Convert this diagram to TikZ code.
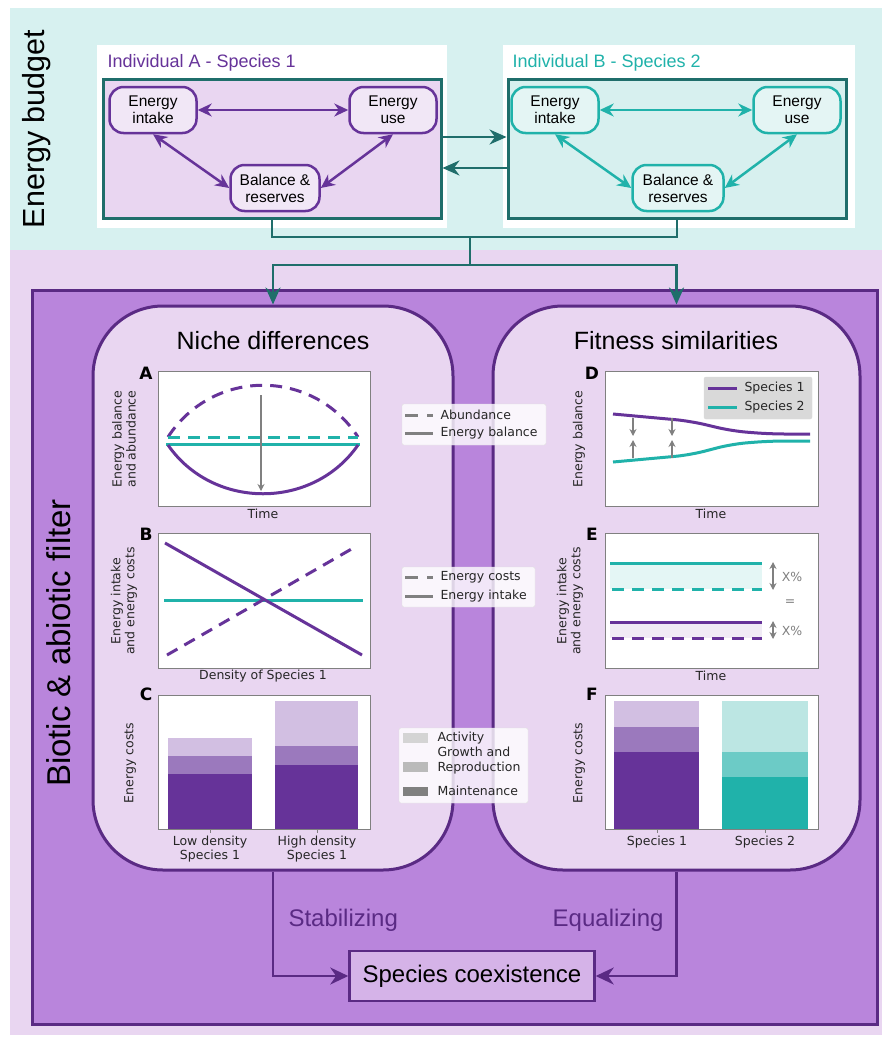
\documentclass[tikz,border=0pt]{standalone}
\usepackage{fontspec}
\setmainfont{DejaVu Sans}
\newfontfamily\arial{Liberation Sans}
\usetikzlibrary{arrows.meta,positioning}

\definecolor{spone}{HTML}{663399}
\definecolor{sptwo}{HTML}{20B2AA}
\definecolor{darkteal}{HTML}{1F6E6B}
\definecolor{darkpurple}{HTML}{5A2A84}
\definecolor{tealband}{HTML}{D7F1F0}
\definecolor{lavband}{HTML}{E9D6F1}
\definecolor{midpurple}{HTML}{B985DC}
\definecolor{lavnode}{HTML}{F1E7F6}
\definecolor{tealnode}{HTML}{E4F5F4}
\definecolor{tealbox}{HTML}{D7F0EF}
\definecolor{coexfill}{HTML}{D5B3E8}
\definecolor{growone}{HTML}{9B79BD}
\definecolor{actone}{HTML}{D2BFE2}
\definecolor{growtwo}{HTML}{6CCBC6}
\definecolor{acttwo}{HTML}{BCE6E3}

\begin{document}
\begin{tikzpicture}[x=1pt,y=-1pt,>={Stealth[length=14pt,width=13pt]},
    ebox/.style={draw,rounded corners=14pt,line width=2.5pt,minimum width=87pt,
                 minimum height=46pt,inner sep=1pt,align=center,
                 font=\arial\fontsize{15.5}{17}\selectfont},
    indiv/.style={draw=darkteal,line width=3pt,inner sep=0pt,
                  minimum width=338pt,minimum height=139pt},
    link/.style={darkteal,line width=2.5pt,>={Stealth[length=17pt,width=15pt]}},
    filter/.style={draw=darkpurple,line width=3pt,fill=lavband,
                   rounded corners=70pt,inner sep=0pt,minimum height=564pt},
    heading/.style={font=\arial\fontsize{25}{28}\selectfont},
    axbox/.style={draw=gray,line width=1pt,fill=white},
    lab/.style={font=\fontsize{12.5}{14}\selectfont,text=black!85,align=center},
    panel/.style={font=\bfseries\fontsize{17}{18}\selectfont},
    lineone/.style={spone,line width=3pt},
    linetwo/.style={sptwo,line width=3pt},
    dashy/.style={dash pattern=on 12pt off 8pt},
    legbox/.style={draw=black!12,fill=white,fill opacity=0.8,rounded corners=2pt},
    pointer/.style={gray,line width=1.8pt,>={Stealth[length=7pt,width=7pt]}},
    flow/.style={darkpurple,line width=2.5pt,>={Stealth[length=18pt,width=17pt]}}]

  \useasboundingbox (0,0) rectangle (885,1037);
  \fill[tealband] (10,8) rectangle (882,250);
  \fill[lavband] (10,250) rectangle (882,1035);
  \fill[white] (97,45) rectangle (447,228);
  \fill[white] (503,45) rectangle (855,228);

  \node[rotate=90,font=\arial\fontsize{30.5}{32}\selectfont] (budget) at (37,129) {Energy budget};
  \node[anchor=west,text=spone,font=\arial\fontsize{18}{20}\selectfont] (titleA) at (104,63) {Individual A - Species 1};
  \node[anchor=west,text=sptwo,font=\arial\fontsize{18}{20}\selectfont] (titleB) at (509,63) {Individual B - Species 2};

  \node[indiv,fill=lavband] (boxA) at (272,148.5) {};
  \node[indiv,fill=tealbox] (boxB) at (677,148.5) {};

  \node[ebox,draw=spone,fill=lavnode]                   (ia) at (153,110) {Energy\\intake};
  \node[ebox,draw=spone,fill=lavnode]                   (ua) at (393,110) {Energy\\use};
  \node[ebox,draw=spone,fill=lavnode,minimum width=89pt] (ba) at (275,188) {Balance \&\\reserves};
  \node[ebox,draw=sptwo,fill=tealnode]                  (ib) at (555,110) {Energy\\intake};
  \node[ebox,draw=sptwo,fill=tealnode]                  (ub) at (797,110) {Energy\\use};
  \node[ebox,draw=sptwo,fill=tealnode,minimum width=91pt] (bb) at (678,188) {Balance \&\\reserves};

  \path[<->,spone,line width=2.5pt] (ia) edge (ua)
        (ia.south) edge (ba.west)
        (ua.south) edge (ba.east);
  \path[<->,sptwo,line width=2.5pt] (ib) edge (ub)
        (ib.south) edge (bb.west)
        (ub.south) edge (bb.east);

  \draw[link,->] ([yshift=11.5pt]boxA.east) -- ([yshift=11.5pt]boxB.west);
  \draw[link,->] ([yshift=-19.5pt]boxB.west) -- ([yshift=-19.5pt]boxA.east);

  \coordinate (split) at (470,237);
  \coordinate (fork) at (470,265);
  \draw[link] (boxA.south) |- (split) -| (boxB.south);
  \draw[link] (split) -- (fork);

  \draw[darkpurple,fill=midpurple,line width=3pt] (32,290) rectangle (877,1024);
  \node[rotate=90,font=\arial\fontsize{33}{35}\selectfont] (filter) at (58.5,643) {Biotic \& abiotic filter};

  \node[filter,minimum width=360pt] (niche) at (273,588) {};
  \node[filter,minimum width=367pt] (fitness) at (676.5,588) {};
  \draw[link,->] (fork) -| (niche.north);
  \draw[link,->] (fork) -| (fitness.north);
  \node[heading] (nichetitle) at (273,341) {Niche differences};
  \node[heading] (fittitle) at (676,341) {Fitness similarities};

  % panel A
  \draw[axbox] (158,371) rectangle (370,506);
  \node[panel] at (146,373) {A};
  \draw[lineone,dashy] (168,437) .. controls (213,368) and (313,368) .. (358,437);
  \draw[linetwo,dashy] (168,437) -- (358,437);
  \draw[linetwo] (166,444) -- (360,444);
  \draw[lineone] (168,445) .. controls (213,510) and (313,510) .. (358,445);
  \draw[pointer,->] (261,395) -- (261,491);
  \node[lab,rotate=90] at (124,439) {Energy balance\\and abundance};
  \node[lab] at (263,514) {Time};
  \draw[legbox] (402,404) rectangle (546,445);
  \draw[gray,line width=3pt,dash pattern=on 13pt off 9pt] (405,415) -- (433,415);
  \draw[gray,line width=3pt] (405,433) -- (433,433);
  \node[lab,anchor=west] at (437,415) {Abundance};
  \node[lab,anchor=west] at (437,433) {Energy balance};

  % panel B
  \draw[axbox] (158,533) rectangle (370,668);
  \node[panel] at (146,534) {B};
  \draw[linetwo] (164,600) -- (363,600);
  \draw[lineone,dashy] (167,655) -- (355,547);
  \draw[lineone] (165,543) -- (362,655);
  \node[lab,rotate=90] at (124,601) {Energy intake\\and energy costs};
  \node[lab] at (263,676) {Density of Species 1};
  \draw[legbox] (402,567) rectangle (535,607);
  \draw[gray,line width=3pt,dash pattern=on 13pt off 9pt] (405,577) -- (433,577);
  \draw[gray,line width=3pt] (405,596) -- (433,596);
  \node[lab,anchor=west] at (437,577) {Energy costs};
  \node[lab,anchor=west] at (437,596) {Energy intake};

  % panel C
  \draw[axbox] (158,695) rectangle (370,829);
  \node[panel] at (146,694) {C};
  \fill[spone] (168,774) rectangle (252,829);
  \fill[growone] (168,756) rectangle (252,774);
  \fill[actone] (168,738) rectangle (252,756);
  \fill[spone] (275,765) rectangle (358,829);
  \fill[growone] (275,746) rectangle (358,765);
  \fill[actone] (275,701) rectangle (358,746);
  \draw[gray,line width=1pt] (158,695) rectangle (370,829);
  \draw[gray] (210,829) -- (210,833) (317,829) -- (317,833);
  \node[lab,rotate=90] at (130,763) {Energy costs};
  \node[lab] at (210,849) {Low density\\Species 1};
  \node[lab] at (317,849) {High density\\Species 1};
  \draw[legbox] (399,728) rectangle (528,803);
  \fill[black!17] (403,733) rectangle (428,743);
  \fill[black!27] (403,762) rectangle (428,772);
  \fill[black!50] (403,787) rectangle (428,796);
  \node[lab,anchor=west] at (434,738) {Activity};
  \node[lab,anchor=west,align=left,font=\fontsize{12.5}{15}\selectfont] at (434,761) {Growth and\\Reproduction};
  \node[lab,anchor=west] at (434,791) {Maintenance};

  % panel D
  \draw[axbox] (605,371) rectangle (818,506);
  \node[panel] at (592,373) {D};
  \draw[lineone,rounded corners=15pt] (613,414) -- (690,421) -- (732,431) -- (770,434) -- (810,434);
  \draw[linetwo,rounded corners=15pt] (613,462) -- (690,455) -- (732,444) -- (770,441) -- (810,441);
  \foreach \px in {633,672} {
    \draw[pointer,->] (\px,418) -- (\px,436);
    \draw[pointer,->] (\px,458) -- (\px,440);
  }
  \draw[fill=black!15,draw=black!15,rounded corners=2pt] (704,377) rectangle (812,419);
  \draw[lineone] (708,388) -- (737,388);
  \draw[linetwo] (708,407) -- (737,407);
  \node[lab,anchor=west] at (741,388) {Species 1};
  \node[lab,anchor=west] at (741,407) {Species 2};
  \node[lab,rotate=90] at (579,439) {Energy balance};
  \node[lab] at (711,514) {Time};

  % panel E
  \draw[axbox] (605,533) rectangle (818,668);
  \node[panel] at (592,534) {E};
  \fill[sptwo!12] (610,563) rectangle (762,589);
  \fill[spone!10] (610,622) rectangle (762,638);
  \draw[linetwo] (610,563) -- (762,563);
  \draw[linetwo,dashy] (612,589) -- (762,589);
  \draw[lineone] (610,622) -- (762,622);
  \draw[lineone,dashy] (612,638) -- (762,638);
  \draw[pointer,<->] (773,562) -- (773,590);
  \draw[pointer,<->] (773,621) -- (773,639);
  \node[lab,text=gray] at (792,577) {X\%};
  \node[lab,text=gray] at (790,603) {=};
  \node[lab,text=gray] at (792,631) {X\%};
  \node[lab,rotate=90] at (570,601) {Energy intake\\and energy costs};
  \node[lab] at (711,676) {Time};

  % panel F
  \draw[axbox] (605,695) rectangle (818,829);
  \node[panel] at (592,694) {F};
  \fill[spone] (614,752) rectangle (699,829);
  \fill[growone] (614,727) rectangle (699,752);
  \fill[actone] (614,701) rectangle (699,727);
  \fill[sptwo] (722,777) rectangle (808,829);
  \fill[growtwo] (722,752) rectangle (808,777);
  \fill[acttwo] (722,701) rectangle (808,752);
  \draw[gray,line width=1pt] (605,695) rectangle (818,829);
  \draw[gray] (657,829) -- (657,833) (765,829) -- (765,833);
  \node[lab,rotate=90] at (579,763) {Energy costs};
  \node[lab] at (657,842) {Species 1};
  \node[lab] at (765,842) {Species 2};

  \node[draw=darkpurple,fill=coexfill,line width=2.5pt,minimum width=245pt,minimum height=50pt,
        font=\arial\fontsize{24}{26}\selectfont] (coex) at (472,976) {Species coexistence};
  \draw[flow,->] (niche.south) |- (coex.west);
  \draw[flow,->] (fitness.south) |- (coex.east);
  \node[anchor=west,text=darkpurple,font=\arial\fontsize{24}{26}\selectfont] (stab) at (285,920) {Stabilizing};
  \node[anchor=east,text=darkpurple,font=\arial\fontsize{24}{26}\selectfont] (equal) at (667,920) {Equalizing};
\end{tikzpicture}
\end{document}
